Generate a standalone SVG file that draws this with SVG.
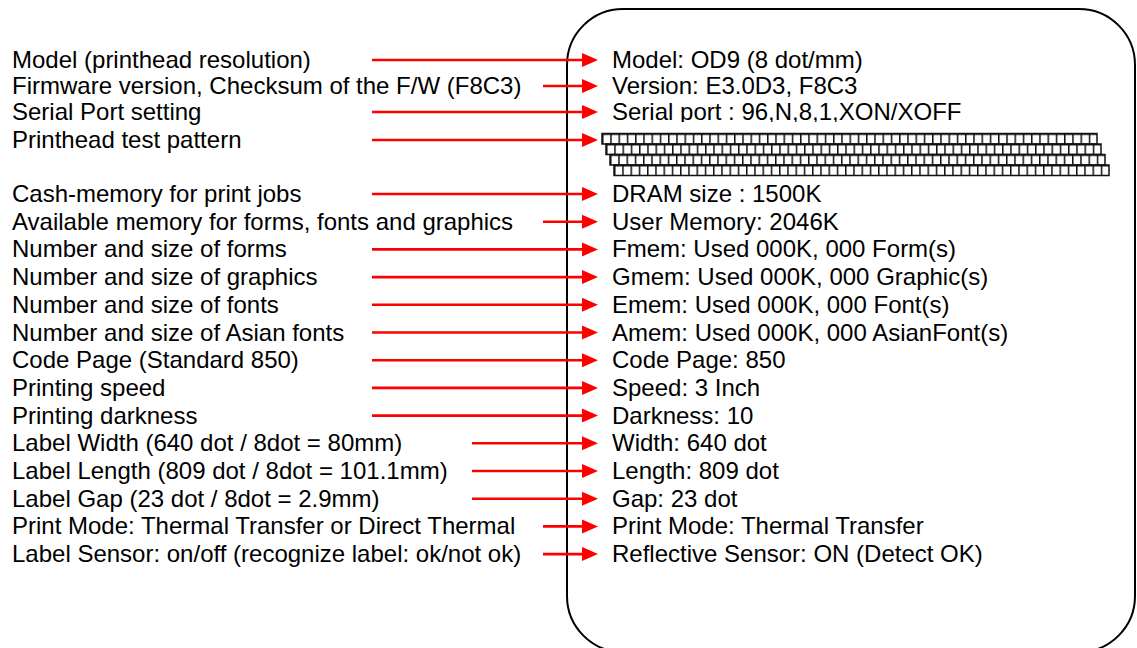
<svg xmlns="http://www.w3.org/2000/svg" width="1137" height="648" viewBox="0 0 1137 648">
<style>
text{font-family:"Liberation Sans",Arial,sans-serif;font-size:24px;fill:#000}
.c line{stroke:#f00;stroke-width:2.6;marker-end:url(#ah)}
.row{fill:url(#cells);stroke:#111;stroke-width:1.5}
</style>
<defs>
<marker id="ah" markerUnits="userSpaceOnUse" markerWidth="16" markerHeight="14" refX="0" refY="7" viewBox="0 0 16 14" orient="auto" overflow="visible"><path d="M0,0 L16,7 L0,14 Z" fill="#f00"/></marker>
<pattern id="cells" patternUnits="userSpaceOnUse" width="8.25" height="10.5"><rect width="8.25" height="10.5" fill="#fff"/><path d="M0.75,0 V10.5 M0,0.75 H8.25" stroke="#111" stroke-width="1.5"/></pattern>
</defs>
<rect width="1137" height="648" fill="#fff"/>
<g id="panel"><rect x="567" y="9" width="568" height="643" rx="56" ry="56" fill="none" stroke="#000" stroke-width="2"/></g>
<g id="labels">
<text x="12" y="68">Model (printhead resolution)</text>
<text x="12" y="94">Firmware version, Checksum of the F/W (F8C3)</text>
<text x="12" y="120">Serial Port setting</text>
<text x="12" y="148">Printhead test pattern</text>
<text x="12" y="202">Cash-memory for print jobs</text>
<text x="12" y="229.7">Available memory for forms, fonts and graphics</text>
<text x="12" y="257.4">Number and size of forms</text>
<text x="12" y="285.1">Number and size of graphics</text>
<text x="12" y="312.8">Number and size of fonts</text>
<text x="12" y="340.5">Number and size of Asian fonts</text>
<text x="12" y="368.2">Code Page (Standard 850)</text>
<text x="12" y="395.9">Printing speed</text>
<text x="12" y="423.6">Printing darkness</text>
<text x="12" y="451.3">Label Width (640 dot / 8dot = 80mm)</text>
<text x="12" y="479">Label Length (809 dot / 8dot = 101.1mm)</text>
<text x="12" y="506.7">Label Gap (23 dot / 8dot = 2.9mm)</text>
<text x="12" y="534.4">Print Mode: Thermal Transfer or Direct Thermal</text>
<text x="12" y="562.1">Label Sensor: on/off (recognize label: ok/not ok)</text>
</g>
<g id="values">
<text x="612" y="68">Model: OD9 (8 dot/mm)</text>
<text x="612" y="94">Version: E3.0D3, F8C3</text>
<text x="612" y="120">Serial port : 96,N,8,1,XON/XOFF</text>
<text x="612" y="202">DRAM size : 1500K</text>
<text x="612" y="229.7">User Memory: 2046K</text>
<text x="612" y="257.4">Fmem: Used 000K, 000 Form(s)</text>
<text x="612" y="285.1">Gmem: Used 000K, 000 Graphic(s)</text>
<text x="612" y="312.8">Emem: Used 000K, 000 Font(s)</text>
<text x="612" y="340.5">Amem: Used 000K, 000 AsianFont(s)</text>
<text x="612" y="368.2">Code Page: 850</text>
<text x="612" y="395.9">Speed: 3 Inch</text>
<text x="612" y="423.6">Darkness: 10</text>
<text x="612" y="451.3">Width: 640 dot</text>
<text x="612" y="479">Length: 809 dot</text>
<text x="612" y="506.7">Gap: 23 dot</text>
<text x="612" y="534.4">Print Mode: Thermal Transfer</text>
<text x="612" y="562.1">Reflective Sensor: ON (Detect OK)</text>
</g>
<g id="testpattern">
<rect x="600" y="122" width="515" height="56" fill="#fff"/>
<g transform="translate(602,133.5)"><rect class="row" width="495" height="10.5"/></g>
<g transform="translate(606,144)"><rect class="row" width="495" height="10.5"/></g>
<g transform="translate(610,154.5)"><rect class="row" width="495" height="10.5"/></g>
<g transform="translate(614,165)"><rect class="row" width="495" height="10.5"/></g>
</g>
<g id="connectors" class="c">
<line x1="372" y1="60" x2="582" y2="60"/>
<line x1="543" y1="86" x2="582" y2="86"/>
<line x1="372" y1="112" x2="582" y2="112"/>
<line x1="372" y1="140" x2="582" y2="140"/>
<line x1="372" y1="194" x2="582" y2="194"/>
<line x1="543" y1="221.7" x2="582" y2="221.7"/>
<line x1="372" y1="249.4" x2="582" y2="249.4"/>
<line x1="372" y1="277.1" x2="582" y2="277.1"/>
<line x1="372" y1="304.8" x2="582" y2="304.8"/>
<line x1="372" y1="332.5" x2="582" y2="332.5"/>
<line x1="372" y1="360.2" x2="582" y2="360.2"/>
<line x1="372" y1="387.9" x2="582" y2="387.9"/>
<line x1="372" y1="415.6" x2="582" y2="415.6"/>
<line x1="472" y1="443.3" x2="582" y2="443.3"/>
<line x1="472" y1="471" x2="582" y2="471"/>
<line x1="472" y1="498.7" x2="582" y2="498.7"/>
<line x1="543" y1="526.4" x2="582" y2="526.4"/>
<line x1="543" y1="554.1" x2="582" y2="554.1"/>
</g>
</svg>
